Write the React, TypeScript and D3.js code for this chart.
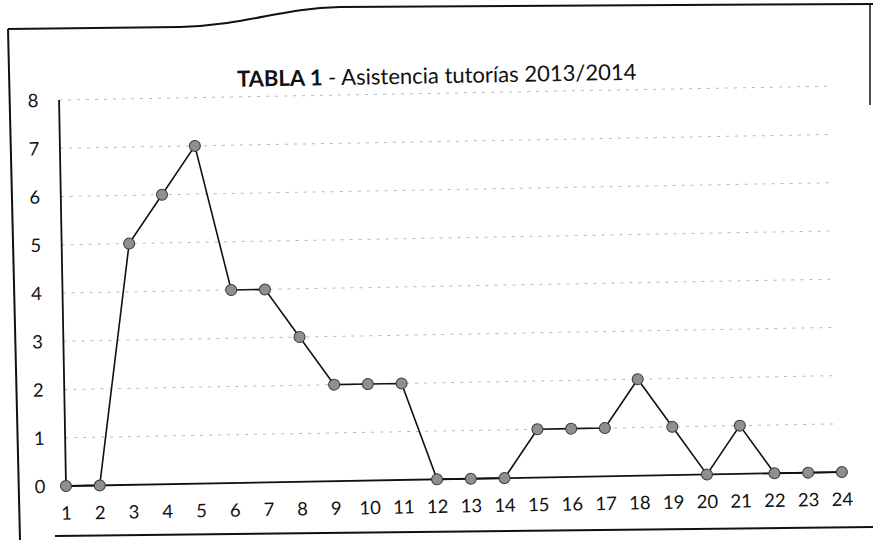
import React from "react";
import * as d3 from "d3";

const sessions: number[] = Array.from({ length: 24 }, (_, i) => i + 1);
const attendance: number[] = [0, 0, 5, 6, 7, 4, 4, 3, 2, 2, 2, 0, 0, 0, 1, 1, 1, 2, 1, 0, 1, 0, 0, 0];
const yTicks: number[] = [0, 1, 2, 3, 4, 5, 6, 7, 8];
const titleBold = "TABLA 1";
const titleRest = " - Asistencia tutorías 2013/2014";

const W = 873;
const H = 540;
const FONT = "Lato, 'Open Sans', sans-serif";

export default function App() {
  const x0 = 66;
  const y0 = 486;
  const x = d3.scalePoint<number>().domain(sessions).range([x0, 842]);
  const y = d3.scaleLinear().domain([0, 8]).range([y0, 100]);
  const line = d3
    .line<number>()
    .x((_, i) => x(sessions[i]) as number)
    .y((d) => y(d));
  const xEnd = x(sessions[sessions.length - 1]) as number;

  return (
    <svg
      width={W}
      height={H}
      viewBox={`0 0 ${W} ${H}`}
      style={{ position: "fixed", left: 0, top: 0, background: "#fff" }}
    >
      <rect x={0} y={0} width={W} height={H} fill="#fff" />
      {/* paper frame */}
      <g fill="none" stroke="#111" strokeWidth={2}>
        <path d="M8,29 L180,27 C250,25 280,8 340,7 L873,4" />
        <path d="M8,29 L20,540" />
        <path d="M55,536 L873,527" />
        <path d="M870,5 L870,105" strokeWidth={1.5} />
      </g>
      <g transform={`rotate(-1.03, ${x0}, ${y0})`}>
        {/* title */}
        <text
          x={444}
          y={90}
          textAnchor="middle"
          fontFamily={FONT}
          fontSize={22}
          fill="#111"
        >
          <tspan fontWeight="bold">{titleBold}</tspan>
          <tspan>{titleRest}</tspan>
        </text>
        {/* gridlines */}
        {yTicks
          .filter((t) => t > 0)
          .map((t) => (
            <line
              key={`g${t}`}
              x1={x0}
              x2={xEnd - 6}
              y1={y(t)}
              y2={y(t)}
              stroke="#a0a0a0"
              strokeWidth={1}
              strokeDasharray="3 6"
              opacity={0.75}
            />
          ))}
        {/* axes */}
        <line x1={x0} x2={x0} y1={y(0)} y2={y(8)} stroke="#111" strokeWidth={1.8} />
        <line x1={x0} x2={xEnd} y1={y(0)} y2={y(0)} stroke="#111" strokeWidth={1.8} />
        {/* y tick labels */}
        {yTicks.map((t) => (
          <text
            key={`y${t}`}
            x={x0 - 26}
            y={y(t)}
            dy="0.36em"
            textAnchor="middle"
            fontFamily={FONT}
            fontSize={18.5}
            fill="#111"
          >
            {t}
          </text>
        ))}
        {/* x tick labels */}
        {sessions.map((s) => (
          <text
            key={`x${s}`}
            x={x(s) as number}
            y={y0 + 27}
            dy="0.36em"
            textAnchor="middle"
            fontFamily={FONT}
            fontSize={18.5}
            fill="#111"
          >
            {s}
          </text>
        ))}
        {/* series */}
        <path d={line(attendance) || ""} fill="none" stroke="#111" strokeWidth={1.6} />
        {attendance.map((v, i) => (
          <circle
            key={`p${i}`}
            cx={x(sessions[i]) as number}
            cy={y(v)}
            r={5.5}
            fill="#8f8f8f"
            stroke="#3a3a3a"
            strokeWidth={1}
          />
        ))}
      </g>
    </svg>
  );
}
